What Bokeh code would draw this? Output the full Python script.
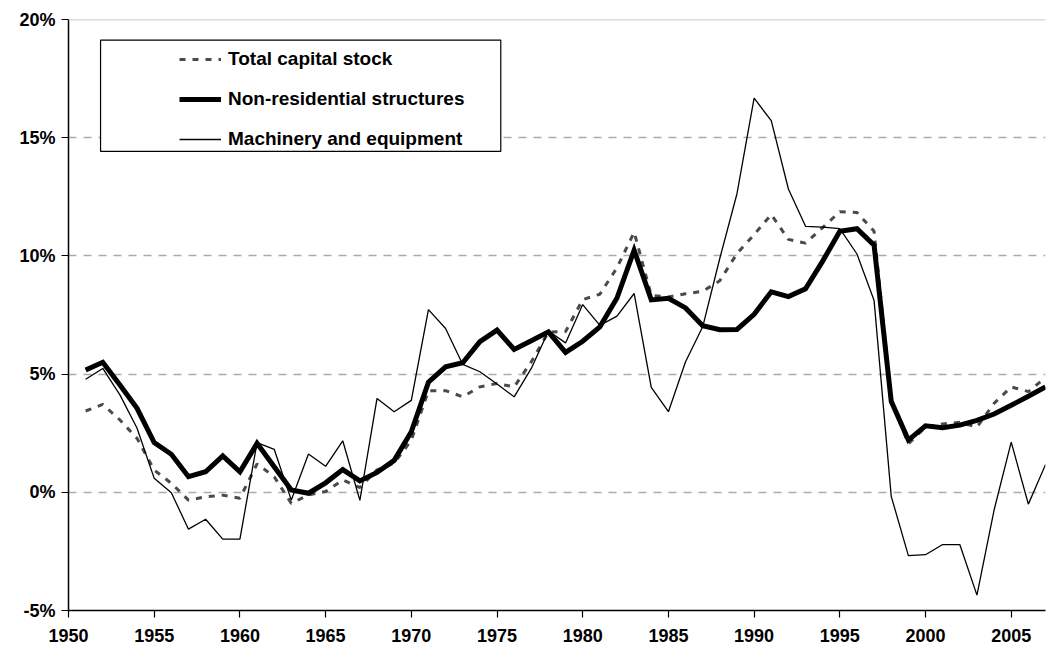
from bokeh.plotting import figure
from bokeh.models import (ColumnDataSource, FixedTicker, PrintfTickFormatter, Legend,
                          LegendItem, Span, BoxAnnotation, Range1d)
from bokeh.embed import file_html
from bokeh.resources import INLINE

years = list(range(1951, 2008))

total_capital = [3.44, 3.72, 3.06, 2.28, 0.94, 0.38, -0.33, -0.19, -0.12, -0.25,
                 1.20, 0.66, -0.47, -0.11, 0.03, 0.52, 0.20, 0.95, 1.23, 2.20,
                 4.30, 4.30, 4.04, 4.46, 4.60, 4.46, 5.52, 6.78, 6.80, 8.15,
                 8.38, 9.50, 11.00, 8.33, 8.26, 8.40, 8.50, 8.95, 10.10, 10.90,
                 11.75, 10.70, 10.54, 11.20, 11.87, 11.84, 11.04, 3.90, 2.05, 2.76,
                 2.89, 2.96, 2.76, 3.76, 4.46, 4.26, 4.85]

non_residential = [5.17, 5.50, 4.54, 3.55, 2.10, 1.61, 0.66, 0.87, 1.54, 0.87,
                   2.07, 1.08, 0.10, -0.04, 0.40, 0.96, 0.48, 0.84, 1.35, 2.56,
                   4.66, 5.31, 5.48, 6.37, 6.86, 6.04, 6.41, 6.79, 5.92, 6.39,
                   7.00, 8.22, 10.24, 8.14, 8.21, 7.80, 7.05, 6.88, 6.89, 7.53,
                   8.48, 8.28, 8.61, 9.78, 11.04, 11.15, 10.45, 3.85, 2.21, 2.81,
                   2.73, 2.84, 3.04, 3.31, 3.68, 4.06, 4.46]

machinery = [4.78, 5.24, 4.12, 2.71, 0.59, -0.02, -1.56, -1.14, -1.98, -1.98,
             2.10, 1.82, -0.33, 1.62, 1.10, 2.18, -0.34, 3.97, 3.41, 3.89,
             7.73, 6.93, 5.41, 5.10, 4.58, 4.04, 5.24, 6.82, 6.32, 7.94,
             7.06, 7.45, 8.41, 4.44, 3.41, 5.52, 7.00, 9.90, 12.63, 16.67,
             15.72, 12.83, 11.25, 11.22, 11.15, 10.08, 8.11, -0.17, -2.68, -2.64,
             -2.21, -2.21, -4.35, -0.75, 2.12, -0.50, 1.17]

series_names = ["Total capital stock", "Non-residential structures", "Machinery and equipment"]
x_ticks = list(range(1950, 2006, 5))
y_ticks = [-5, 0, 5, 10, 15, 20]

src = ColumnDataSource(dict(year=years, total=total_capital,
                            nonres=non_residential, mach=machinery))

FONT = "Liberation Sans"

p = figure(width=1048, height=650, output_backend="svg", toolbar_location=None,
           x_range=Range1d(1950, 2007), y_range=Range1d(-5, 20),
           min_border_left=68, min_border_right=3, min_border_top=19,
           min_border_bottom=40)
p.outline_line_color = None
p.background_fill_color = "white"

# grid
p.xgrid.grid_line_color = None
p.ygrid.ticker = FixedTicker(ticks=[0, 5, 10, 15])
p.ygrid.grid_line_color = "#aaaaaa"
p.ygrid.grid_line_dash = "8 7"
p.ygrid.grid_line_width = 1.5
p.add_layout(Span(location=20, dimension="width", line_color="#b5b5b5", line_width=1.5))

# axes
for ax in (p.xaxis[0], p.yaxis[0]):
    ax.axis_line_color = "black"
    ax.axis_line_width = 1.5
    ax.major_tick_line_color = "black"
    ax.major_tick_line_width = 1.2
    ax.major_tick_out = 7
    ax.major_tick_in = 0
    ax.minor_tick_line_color = None
    ax.major_label_text_font = FONT
    ax.major_label_text_font_style = "bold"
    ax.major_label_text_font_size = "18px"
    ax.major_label_text_color = "black"

p.xaxis.ticker = FixedTicker(ticks=x_ticks)
p.xaxis.major_label_standoff = 11
p.yaxis.ticker = FixedTicker(ticks=y_ticks)
p.yaxis.formatter = PrintfTickFormatter(format="%d%%")
p.yaxis.major_label_standoff = 6

r_total = p.line("year", "total", source=src, line_color="#4a4a4a", line_width=3,
                 line_dash="6 7")
r_nonres = p.line("year", "nonres", source=src, line_color="black", line_width=5,
                  line_join="miter")
r_mach = p.line("year", "mach", source=src, line_color="black", line_width=1.3)

# legend frame
p.add_layout(BoxAnnotation(left=1951.87, right=1975.22, top=19.13, bottom=14.42,
                           fill_color="white", fill_alpha=1.0,
                           line_color="black", line_alpha=1.0, line_width=1.2,
                           level="overlay"))

legend = Legend(items=[LegendItem(label=series_names[0], renderers=[r_total]),
                       LegendItem(label=series_names[1], renderers=[r_nonres]),
                       LegendItem(label=series_names[2], renderers=[r_mach])],
                location=(111, 460), border_line_color=None,
                background_fill_alpha=0.0, padding=0, margin=0, spacing=18,
                glyph_width=42, glyph_height=20, label_height=20,
                label_standoff=7, label_text_font=FONT,
                label_text_font_style="bold", label_text_font_size="19px",
                label_text_color="black")
p.add_layout(legend)

open("out.html", "w").write(file_html(p, INLINE))
